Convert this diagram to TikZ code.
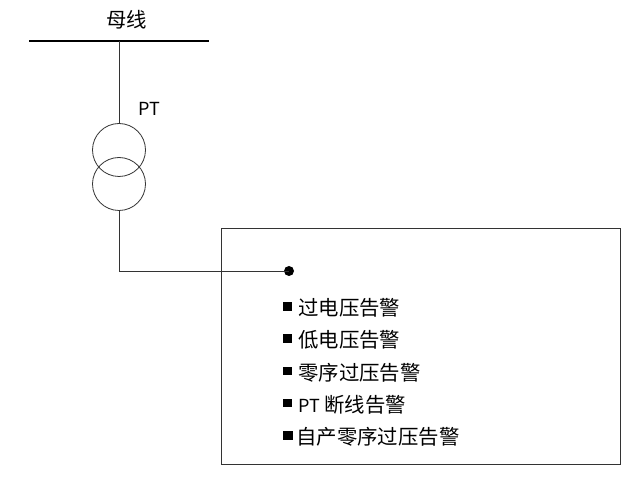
\documentclass[tikz,border=0pt]{standalone}
\usepackage{fontspec}
\setmainfont{Noto Sans CJK SC}
\usetikzlibrary{positioning}
\newcommand{\latinsize}{\fontsize{18}{22}\selectfont}
\begin{document}
\begin{tikzpicture}[x=1pt,y=-1pt,
                every node/.style={font=\fontsize{20.4}{24}\selectfont, inner sep=0pt}, % Labels
                winding/.style={circle, draw=black!80, minimum size=53pt, line width=0.8pt}, % Transformer circles
                alarm/.style={anchor=west}, % Alarm lines
                bullet/.style={fill=black, minimum size=8.5pt}, % Small squares
                wire/.style={draw=black!80, line width=0.8pt} % Thin lines
                ]
                \useasboundingbox (0,0) rectangle (635,478);
                \coordinate (busleft) at (29,41);
                \coordinate (busright) at (209,41);
                \coordinate (tap) at (119,41);
                \draw[line width=2pt] (busleft) -- (busright);
                \node (buslabel) at (126.5,19.5) {母线};
                \node[font=\latinsize] (ptlabel) at (149.5,109) {PT};
                \node[winding] (upper) at (119,150) {};
                \node[winding] (lower) at (119,184) {};
                \draw[wire] (tap) -- (upper.north);
                \node[draw=black!80, line width=0.8pt, minimum width=399pt, minimum height=235.5pt] (panel) at (420.5,346.2) {};
                \node[circle, fill=black, minimum size=10pt] (dot) at (289,271) {};
                \draw[wire] (lower.south) |- (dot.center);
                \node[bullet] (b1) at (287.5,306.5) {};
                \node[bullet] (b2) at (287.5,338.5) {};
                \node[bullet] (b3) at (287.5,371) {};
                \node[bullet] (b4) at (287.5,403) {};
                \node[bullet, minimum size=9.5pt] (b5) at (288,435.5) {};
                \node[alarm] (a1) at (298,307.5) {过电压告警};
                \node[alarm] (a2) at (298,339.5) {低电压告警};
                \node[alarm] (a3) at (298,372.5) {零序过压告警};
                \node[alarm] (a4) at (298,404.5) {{\latinsize PT} 断线告警};
                \node[alarm] (a5) at (296,436.5) {自产零序过压告警};
            \end{tikzpicture}
\end{document}
